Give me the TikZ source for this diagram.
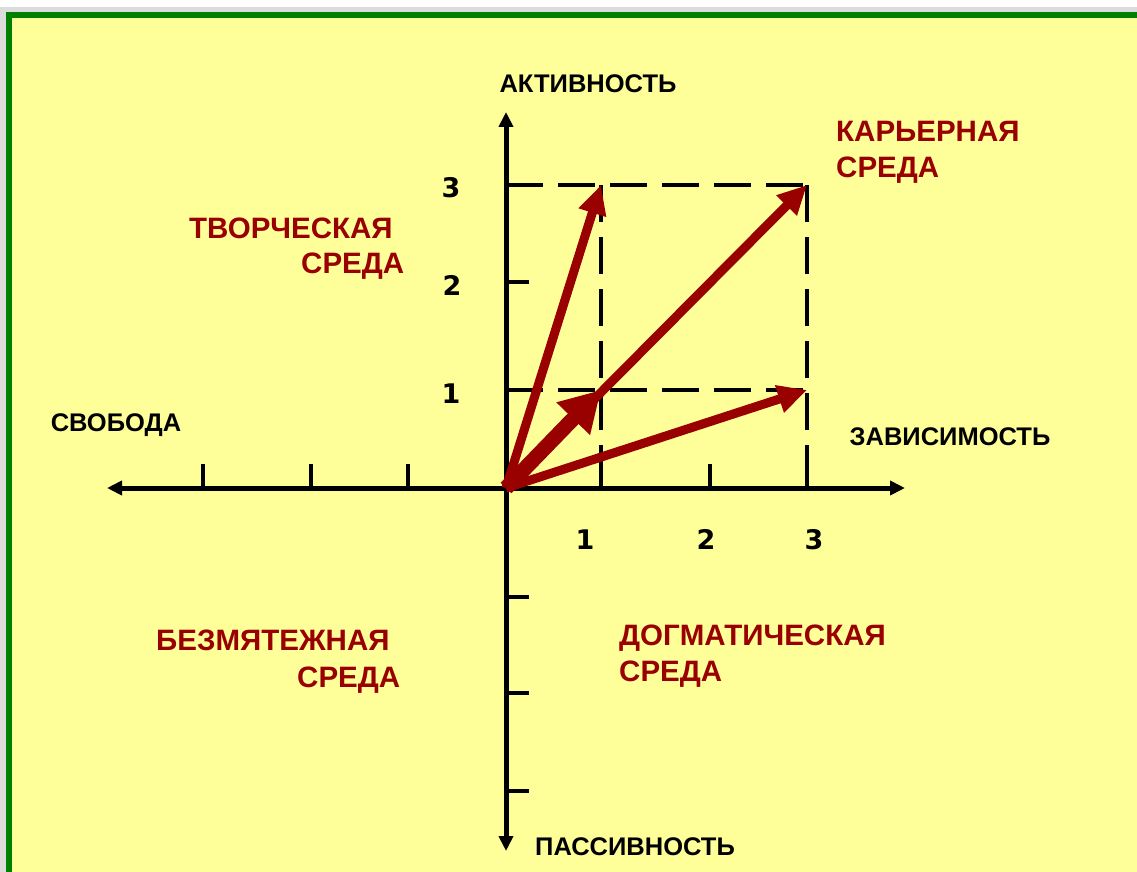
\documentclass[tikz,border=0pt]{standalone}
\usepackage{fontspec}
\setmainfont{Liberation Sans}
\newfontfamily\numfont{DejaVu Sans}
\usetikzlibrary{arrows.meta}
\definecolor{bgyellow}{HTML}{FFFF99}
\definecolor{frgreen}{HTML}{008000}
\definecolor{darkred}{HTML}{990000}
\definecolor{bandgray}{HTML}{DCDCDC}
\tikzset{
  axis/.style={line width=5pt, -{Triangle[length=15pt,width=14pt]}},
  tickmark/.style={line width=4pt},
  guide/.style={line width=4pt, dash pattern=on 37pt off 15pt},
  vec/.style={darkred, line width=9pt, -{Triangle[length=29pt,width=27pt]}},
  bigvec/.style={darkred, line width=15pt, -{Triangle[length=40pt,width=44pt]}},
  axlabel/.style={font=\fontsize{25.5}{28}\selectfont\bfseries, text=black, inner sep=0pt},
  envlabel/.style={font=\fontsize{29.5}{32}\selectfont\bfseries, text=darkred, inner sep=0pt},
  numlabel/.style={font=\numfont\fontsize{27}{30}\selectfont\bfseries, text=black, inner sep=0pt}
}
\begin{document}
\begin{tikzpicture}[x=1pt,y=-1pt]
\useasboundingbox (0,0) rectangle (1137,872);
% frame
\fill[white] (0,0) rectangle (1137,872);
\fill[bandgray] (0,7) rectangle (1137,12);
\fill[bandgray] (0,12) rectangle (6,872);
\fill[frgreen] (6,12) rectangle (1137,872);
\fill[bgyellow] (12,18) rectangle (1137,872);
% coordinates
\coordinate (O) at (506,488);
\coordinate (L) at (107,488);
\coordinate (R) at (905,488);
\coordinate (T) at (506,112);
\coordinate (B) at (506,851);
\coordinate (P13) at (601,185);
\coordinate (P33) at (807,185);
\coordinate (P11) at (601,390);
\coordinate (P31) at (807,390);
\coordinate (Y3) at (506,185);
\coordinate (Y1) at (506,390);
\coordinate (X1) at (601,488);
\coordinate (X3) at (807,488);
% ticks
\foreach \x in {203,311,408,601,710,807} \draw[tickmark] (\x,488) -- (\x,464);
\foreach \y in {185,282,390,597,693,791} \draw[tickmark] (506,\y) -- (529,\y);
% dashed guides
\draw[guide] (Y3) -- (P33);
\draw[guide] (Y1) -- (P31);
\draw[guide] (P13) -- (X1);
\draw[guide] (P33) -- (X3);
% axes
\draw[axis] (O) -- (L);
\draw[axis] (O) -- (R);
\draw[axis] (O) -- (T);
\draw[axis] (O) -- (B);
% vectors
\draw[vec] (O) -- (P13);
\draw[vec] (O) -- (P33);
\draw[vec] (O) -- (P31);
\draw[bigvec] (O) -- (P11);
% axis labels
\node[axlabel, anchor=base] (act) at (588,93) {АКТИВНОСТЬ};
\node[axlabel, anchor=base] (pas) at (635,855) {ПАССИВНОСТЬ};
\node[axlabel, anchor=base] (svo) at (116,431) {СВОБОДА};
\node[axlabel, anchor=base] (zav) at (950,445) {ЗАВИСИМОСТЬ};
% numbers
\node[numlabel, anchor=base] (n3) at (451,197) {3};
\node[numlabel, anchor=base] (n2) at (452,295) {2};
\node[numlabel, anchor=base] (n1) at (451,403) {1};
\node[numlabel, anchor=base] (m1) at (585,549) {1};
\node[numlabel, anchor=base] (m2) at (706,549) {2};
\node[numlabel, anchor=base] (m3) at (814,549) {3};
% environments
\node[envlabel, anchor=base west] (kar1) at (836,142) {КАРЬЕРНАЯ};
\node[envlabel, anchor=base west] (kar2) at (836,177) {СРЕДА};
\node[envlabel, anchor=base west] (tvo1) at (189,238) {ТВОРЧЕСКАЯ};
\node[envlabel, anchor=base west] (tvo2) at (301,273) {СРЕДА};
\node[envlabel, anchor=base west] (bez1) at (156,650) {БЕЗМЯТЕЖНАЯ};
\node[envlabel, anchor=base west] (bez2) at (297,687) {СРЕДА};
\node[envlabel, anchor=base west] (dog1) at (619,645) {ДОГМАТИЧЕСКАЯ};
\node[envlabel, anchor=base west] (dog2) at (619,681) {СРЕДА};
\end{tikzpicture}
\end{document}
